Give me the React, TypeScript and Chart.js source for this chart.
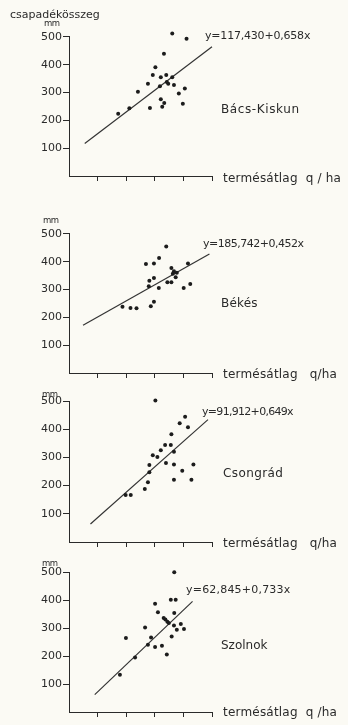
import React, { useEffect, useRef } from "react";
import { Chart, registerables } from "chart.js";

Chart.register(...registerables);

// ---------- data ----------
const Y_TICKS = [100, 200, 300, 400, 500];
const X_TICKS = [1, 2, 3, 4, 5];
const Y_AXIS_END = 500;
const Y_HEADROOM = 520;

const BACS_X = [1.72, 2.11, 2.41, 2.76, 2.83, 2.93, 3.02, 3.21, 3.18, 3.21, 3.26, 3.33, 3.32, 3.4, 3.42, 3.47, 3.61, 3.61, 3.67, 3.84, 3.98, 4.05, 4.11];
const BACS_Y = [224, 244, 303, 332, 245, 363, 391, 355, 323, 276, 249, 263, 440, 363, 338, 332, 513, 355, 327, 297, 260, 315, 494];
const BACS_LINE_X = [0.55, 5.0];
const BACS_LINE_Y = [117, 465];

const BEKES_X = [1.87, 2.15, 2.36, 2.69, 2.79, 2.81, 2.86, 2.97, 2.97, 2.97, 3.14, 3.15, 3.4, 3.44, 3.58, 3.58, 3.63, 3.67, 3.73, 3.77, 4.01, 4.16, 4.24];
const BEKES_Y = [238, 234, 233, 392, 312, 332, 240, 394, 342, 256, 306, 414, 455, 326, 378, 326, 357, 366, 344, 361, 306, 394, 320];
const BEKES_LINE_X = [0.49, 4.91];
const BEKES_LINE_Y = [172, 428];

const CSON_X = [1.98, 2.16, 2.65, 2.76, 2.81, 2.81, 2.93, 3.02, 3.09, 3.21, 3.36, 3.39, 3.56, 3.58, 3.67, 3.67, 3.67, 3.87, 3.96, 4.06, 4.16, 4.28, 4.35];
const CSON_Y = [167, 167, 188, 212, 247, 273, 308, 502, 301, 325, 344, 280, 344, 382, 320, 275, 221, 421, 253, 444, 407, 221, 275];
const CSON_LINE_X = [0.75, 4.86];
const CSON_LINE_Y = [64, 434];

const SZOL_X = [1.78, 1.99, 2.31, 2.66, 2.76, 2.87, 3.01, 3.01, 3.11, 3.25, 3.31, 3.37, 3.42, 3.44, 3.49, 3.56, 3.59, 3.68, 3.68, 3.67, 3.73, 3.77, 3.91, 4.02];
const SZOL_Y = [133, 264, 195, 302, 240, 266, 387, 232, 356, 237, 336, 330, 205, 322, 318, 401, 270, 499, 354, 309, 401, 294, 314, 296];
const SZOL_LINE_X = [0.9, 4.32];
const SZOL_LINE_Y = [62, 395];

const Y_TITLE = "csapadékösszeg";
const UNIT = "mm";

// ---------- layout ----------
const W = 348;
const H = 725;
const AXIS_LEFT = 69;
const AXIS_RIGHT = 212;
const PAD_TOP = 14;
const PAD_BOTTOM = 20;
const INK = "#2a2a2a";
const FONT = "'DejaVu Sans', sans-serif";

// draws the vertical axis only from 0 up to Y_AXIS_END, through the y scale
const yAxisLine = {
  id: "yAxisLine",
  beforeDatasetsDraw(chart: any) {
    const { ctx, scales } = chart;
    const x = scales.x.getPixelForValue(0);
    const y0 = scales.y.getPixelForValue(0);
    const y1 = scales.y.getPixelForValue(Y_AXIS_END);
    const px = Math.floor(x) + 0.5;
    ctx.save();
    ctx.strokeStyle = INK;
    ctx.lineWidth = 1;
    ctx.beginPath();
    ctx.moveTo(px, Math.floor(y0) + 1);
    ctx.lineTo(px, Math.floor(y1) + 0.0);
    ctx.stroke();
    ctx.restore();
  },
};

type PanelProps = {
  top: number; // pixel of the 500 tick
  bottom: number; // pixel of the x axis
  xs: number[];
  ys: number[];
  lx: number[];
  ly: number[];
};

function Panel({ top, bottom, xs, ys, lx, ly }: PanelProps) {
  const ref = useRef<HTMLCanvasElement | null>(null);
  const perUnit = (bottom - top) / Y_AXIS_END;
  const areaTop = Math.round(top - (Y_HEADROOM - Y_AXIS_END) * perUnit);
  const canvasTop = areaTop - PAD_TOP;
  const height = bottom - areaTop + PAD_TOP + PAD_BOTTOM;
  const headroom = Y_AXIS_END + (top - areaTop) / perUnit;
  useEffect(() => {
    if (!ref.current) return;
    const chart = new Chart(ref.current, {
      type: "scatter",
      data: {
        datasets: [
          {
            data: xs.map((x, i) => ({ x, y: ys[i] })),
            pointRadius: 2,
            pointHoverRadius: 2,
            pointBackgroundColor: "#1c1c1c",
            pointBorderWidth: 0,
            clip: false,
          } as any,
          {
            data: lx.map((x, i) => ({ x, y: ly[i] })),
            showLine: true,
            pointRadius: 0,
            borderColor: "#333",
            borderWidth: 1.2,
            clip: false,
          } as any,
        ],
      },
      options: {
        animation: false,
        responsive: false,
        events: [],
        layout: { padding: { top: PAD_TOP, left: 0, right: W - AXIS_RIGHT, bottom: 0 } },
        plugins: { legend: { display: false }, tooltip: { enabled: false } },
        scales: {
          x: {
            type: "linear",
            min: 0,
            max: 5,
            grid: {
              display: true,
              drawOnChartArea: false,
              drawTicks: true,
              tickLength: 5,
              color: INK,
              tickColor: INK,
              lineWidth: 1,
            },
            border: { display: true, color: INK, width: 1 },
            ticks: { callback: () => "", padding: 0 },
            afterBuildTicks: (s: any) => {
              s.ticks = X_TICKS.map((v) => ({ value: v }));
            },
            afterFit: (s: any) => {
              s.height = PAD_BOTTOM;
            },
          },
          y: {
            type: "linear",
            min: 0,
            max: headroom,
            grid: {
              display: true,
              drawOnChartArea: false,
              drawTicks: true,
              tickLength: 6,
              color: INK,
              tickColor: INK,
              lineWidth: 1,
            },
            border: { display: false },
            ticks: {
              padding: 1,
              color: INK,
              font: { family: FONT, size: 11 },
            },
            afterBuildTicks: (s: any) => {
              s.ticks = Y_TICKS.map((v) => ({ value: v }));
            },
            afterFit: (s: any) => {
              s.width = AXIS_LEFT;
            },
          },
        },
      } as any,
      plugins: [yAxisLine],
    });
    return () => chart.destroy();
  }, []);
  return (
    <canvas
      ref={ref}
      width={W}
      height={height}
      style={{ position: "absolute", left: 0, top: canvasTop, width: W, height }}
    />
  );
}

type TextProps = { x: number; base: number; size: number; text: string; ls?: number };
function Txt({ x, base, size, text, ls = 0 }: TextProps) {
  return (
    <div
      style={{
        position: "absolute",
        left: x,
        top: base - 0.846 * size,
        fontFamily: FONT,
        fontSize: size,
        lineHeight: 1,
        letterSpacing: ls,
        whiteSpace: "pre",
        color: INK,
      }}
    >
      {text}
    </div>
  );
}

export default function App() {
  return (
    <div
      style={{
        position: "absolute",
        left: 0,
        top: 0,
        width: W,
        height: H,
        overflow: "hidden",
        background: "#fbfaf4",
      }}
    >
      <Panel top={37} bottom={176} xs={BACS_X} ys={BACS_Y} lx={BACS_LINE_X} ly={BACS_LINE_Y} />
      <Panel top={234} bottom={373} xs={BEKES_X} ys={BEKES_Y} lx={BEKES_LINE_X} ly={BEKES_LINE_Y} />
      <Panel top={401} bottom={542} xs={CSON_X} ys={CSON_Y} lx={CSON_LINE_X} ly={CSON_LINE_Y} />
      <Panel top={572} bottom={712} xs={SZOL_X} ys={SZOL_Y} lx={SZOL_LINE_X} ly={SZOL_LINE_Y} />

      {/* panel 1 */}
      <Txt x={10} base={18.3} size={11} text={Y_TITLE} />
      <Txt x={44} base={26.5} size={8.5} ls={-0.5} text={UNIT} />
      <Txt x={205} base={39.3} size={11} ls={-0.2} text="y=117,430+0,658x" />
      <Txt x={221} base={113.3} size={12} ls={0.6} text="Bács-Kiskun" />
      <Txt x={223} base={182} size={12} ls={0.2} text={"termésátlag  q / ha"} />

      {/* panel 2 */}
      <Txt x={43} base={223} size={8.5} ls={-0.5} text={UNIT} />
      <Txt x={203} base={247.7} size={11} ls={-0.5} text="y=185,742+0,452x" />
      <Txt x={221} base={307.3} size={12} ls={0.2} text="Békés" />
      <Txt x={223} base={378.5} size={12} ls={0.2} text={"termésátlag   q/ha"} />

      {/* panel 3 */}
      <Txt x={42} base={397.5} size={8.5} ls={-0.5} text={UNIT} />
      <Txt x={202} base={415} size={11} ls={-0.7} text="y=91,912+0,649x" />
      <Txt x={223} base={477} size={12} ls={0.4} text="Csongrád" />
      <Txt x={223} base={547.5} size={12} ls={0.2} text={"termésátlag   q/ha"} />

      {/* panel 4 */}
      <Txt x={42} base={566.5} size={8.5} ls={-0.5} text={UNIT} />
      <Txt x={186} base={593} size={11} ls={0.2} text="y=62,845+0,733x" />
      <Txt x={221} base={649} size={12} ls={0} text="Szolnok" />
      <Txt x={223} base={716.5} size={12} ls={0.2} text={"termésátlag  q /ha"} />
    </div>
  );
}
